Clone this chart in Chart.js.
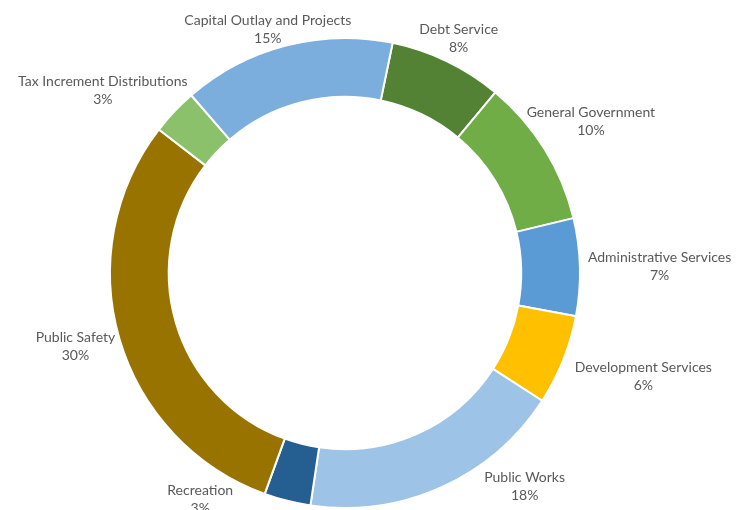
<!DOCTYPE html>
<html>
<head>
<meta charset="utf-8">
<script src="https://cdn.jsdelivr.net/npm/chart.js@4.4.1/dist/chart.umd.min.js"></script>
<style>
  html, body { margin: 0; padding: 0; background: #fff; }
  #wrap { width: 752px; height: 510px; }
</style>
</head>
<body>
<div id="wrap"><canvas id="donut" width="752" height="510"></canvas></div>
<script>
// Chart Data (clockwise, starting with Debt Service)
const categories = [
  "Debt Service",
  "General Government",
  "Administrative Services",
  "Development Services",
  "Public Works",
  "Recreation",
  "Public Safety",
  "Tax Increment Distributions",
  "Capital Outlay and Projects",
];
const shares = [7.8, 10.2, 6.7, 6.2, 18.2, 3.2, 29.9, 3.2, 14.6];
const sliceColors = [
  "#548235", "#70ad47", "#5b9bd5", "#ffc000", "#9dc3e6",
  "#255e91", "#997300", "#8bc16a", "#7caedd",
];

// labels sit just outside the ring, a few are dragged like in the original
const ringLabels = {
  id: "ringLabels",
  afterDatasetsDraw(chart, args, opts) {
    const ctx = chart.ctx;
    const meta = chart.getDatasetMeta(0);
    const data = chart.data.datasets[0].data;
    const total = data.reduce((a, b) => a + b, 0);
    ctx.save();
    ctx.font = opts.font;
    ctx.fillStyle = opts.color;
    ctx.textAlign = "center";
    ctx.textBaseline = "middle";
    meta.data.forEach((arc, i) => {
      const p = arc.getProps(["x", "y", "startAngle", "endAngle", "outerRadius"], true);
      const mid = (p.startAngle + p.endAngle) / 2;
      const cx = Math.cos(mid), cy = Math.sin(mid);
      const lines = [chart.data.labels[i], Math.round((data[i] / total) * 100) + "%"];
      const w = Math.max(...lines.map((t) => ctx.measureText(t).width));
      const h = opts.lineHeight * lines.length;
      const r = p.outerRadius + opts.gap;
      const nudge = opts.nudge[i] || [0, 0];
      const x = p.x + cx * r + cx * w / 2 + nudge[0];
      const y = p.y + cy * r + cy * h / 2 + nudge[1];
      lines.forEach((t, k) => {
        ctx.fillText(t, x, y - h / 2 + opts.lineHeight * (k + 0.5));
      });
    });
    ctx.restore();
  },
};

const ctx = document.getElementById("donut").getContext("2d");
const donut = new Chart(ctx, {
  type: "doughnut",
  data: {
    labels: categories,
    datasets: [
      {
        data: shares,
        backgroundColor: sliceColors,
        borderColor: "#ffffff",
        borderWidth: 2,
        hoverOffset: 0,
      },
    ],
  },
  options: {
    responsive: false,
    animation: false,
    rotation: 11.7,
    cutout: "75%",
    layout: { padding: { left: 109, right: 171, top: 37, bottom: 1 } },
    plugins: {
      legend: { display: false },
      tooltip: { enabled: false },
      ringLabels: {
        font: "14px Lato",
        color: "#595959",
        lineHeight: 18,
        gap: 8,
        nudge: [[-9, 1], [-15, -14], [0, 0], [9, 7], [63, -24], [-77, -27], [2, 1], [-4, -3], [5, 9]],
      },
    },
  },
  plugins: [ringLabels],
});
</script>
</body>
</html>
